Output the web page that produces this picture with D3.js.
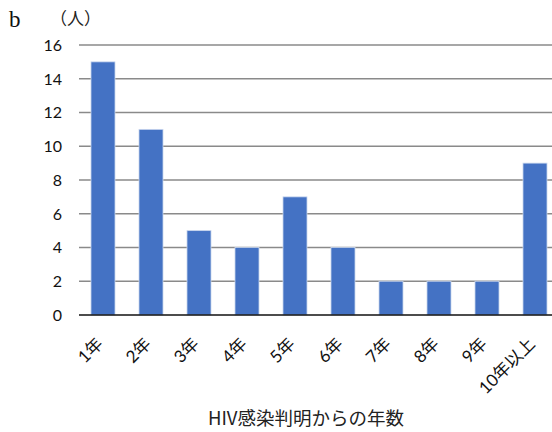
<!DOCTYPE html>
<html>
<head>
<meta charset="utf-8">
<script src="https://cdn.jsdelivr.net/npm/d3@7"></script>
<style>
  html, body { margin: 0; padding: 0; background: #fff; }
  svg { display: block; }
</style>
</head>
<body>
<svg id="chart" width="552" height="432"></svg>
<script>
// Number of people by years since HIV infection was identified
const categories = ["1年", "2年", "3年", "4年", "5年", "6年", "7年", "8年", "9年", "10年以上"];
const counts = [15, 11, 5, 4, 7, 4, 2, 2, 2, 9];
const yTicks = [0, 2, 4, 6, 8, 10, 12, 14, 16];

const svg = d3.select("#chart");
const font = "Lato, 'Noto Sans CJK JP', sans-serif";
const jpFont = "'Noto Sans CJK JP', 'Noto Sans', sans-serif";

const x = d3.scaleBand().domain(categories).range([79, 559]).paddingInner(0.5).paddingOuter(0.25);
const y = d3.scaleLinear().domain([0, 16]).range([315, 45]);

// horizontal gridlines
svg.append("g").selectAll("line").data(yTicks.filter(d => d > 0)).join("line")
  .attr("x1", 79).attr("x2", 552)
  .attr("y1", d => y(d)).attr("y2", d => y(d))
  .attr("stroke", "#8a8a8a").attr("stroke-width", 1.3);

// y tick labels
svg.append("g").selectAll("text").data(yTicks).join("text")
  .attr("x", 62).attr("y", d => y(d)).attr("dy", "0.36em")
  .attr("text-anchor", "end")
  .attr("font-family", font).attr("font-size", 16).attr("fill", "#111")
  .text(d => d);

// bars
svg.append("g").selectAll("rect").data(categories).join("rect")
  .attr("x", d => x(d))
  .attr("width", x.bandwidth())
  .attr("y", (d, i) => y(counts[i]))
  .attr("height", (d, i) => y(0) - y(counts[i]))
  .attr("fill", "#4472C4")
  .attr("stroke", "#c9d6ee").attr("stroke-width", 0.8);

// baseline
svg.append("line")
  .attr("x1", 79).attr("x2", 552).attr("y1", y(0)).attr("y2", y(0))
  .attr("stroke", "#111").attr("stroke-width", 1.3);

// rotated category labels
svg.append("g").selectAll("text").data(categories).join("text")
  .attr("transform", d => `translate(${x(d) + x.bandwidth() / 2 + 1},${345}) rotate(-45)`)
  .attr("text-anchor", "end")
  .attr("font-family", font).attr("font-size", 17).attr("fill", "#111")
  .text(d => d);

// axis title
svg.append("text")
  .attr("x", 306).attr("y", 425)
  .attr("text-anchor", "middle")
  .attr("font-family", jpFont).attr("font-size", 18.5).attr("fill", "#222")
  .text("HIV感染判明からの年数");

// unit label
svg.append("text")
  .attr("x", 50).attr("y", 25)
  .attr("font-family", jpFont).attr("font-size", 17).attr("fill", "#222")
  .text("（人）");

// panel letter
svg.append("text")
  .attr("x", 9).attr("y", 27)
  .attr("font-family", "'Liberation Serif', 'DejaVu Serif', serif").attr("font-size", 23).attr("fill", "#111")
  .text("b");
</script>
</body>
</html>
